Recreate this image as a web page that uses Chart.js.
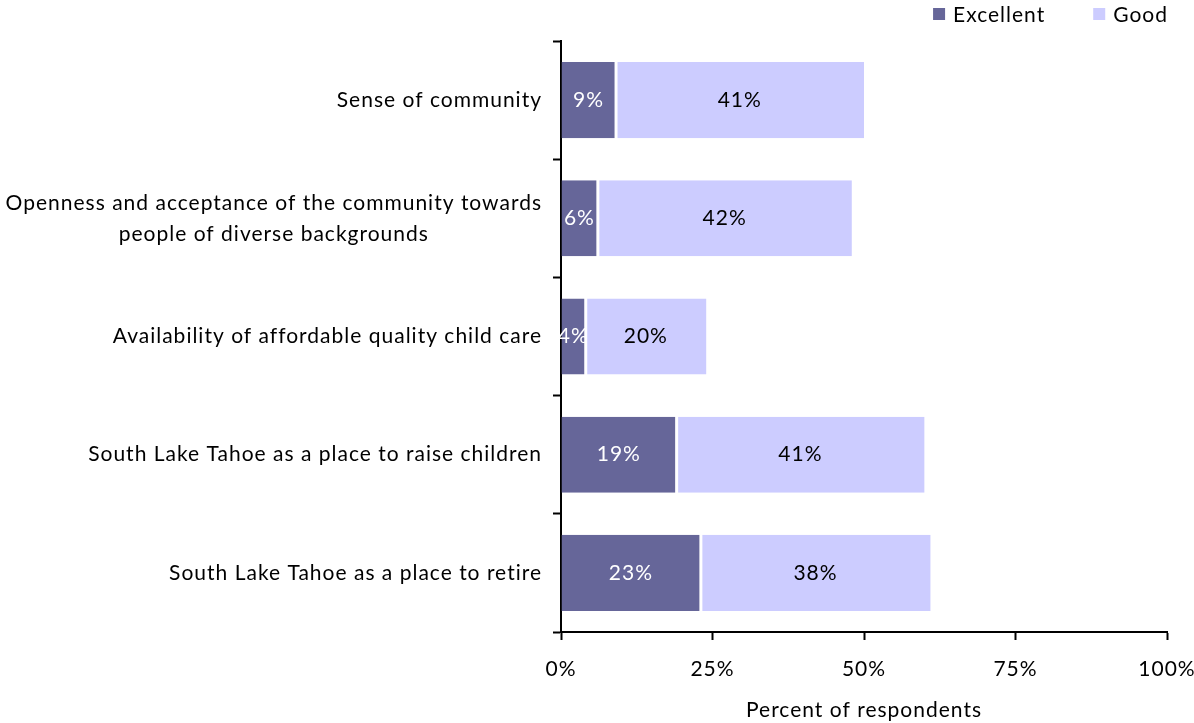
<!DOCTYPE html>
<html>
<head>
<meta charset="utf-8">
<script src="https://cdn.jsdelivr.net/npm/chart.js@4.4.1/dist/chart.umd.min.js"></script>
<style>
  html, body { margin: 0; padding: 0; background: #fff; }
  #wrap { width: 1194px; height: 723px; position: relative; }
</style>
</head>
<body>
<div id="wrap"><canvas id="c"></canvas></div>
<script>
// Community ratings, share of respondents (%)
const categories = [
  'Sense of community',
  ['Openness and acceptance of the community towards', 'people of diverse backgrounds'],
  'Availability of affordable quality child care',
  'South Lake Tahoe as a place to raise children',
  'South Lake Tahoe as a place to retire'
];
const excellentValues = [9, 6, 4, 19, 23];
const goodValues = [41, 42, 20, 41, 38];
const xTickValues = [0, 25, 50, 75, 100];

const FONT = 'Lato, "Open Sans", sans-serif';
const FONT_SIZE = 21;
const SPACING = '1px';

// Slightly tracked-out lettering for every text on the canvas
const tracking = {
  id: 'tracking',
  beforeInit(chart) { chart.ctx.letterSpacing = SPACING; },
  beforeUpdate(chart) { chart.ctx.letterSpacing = SPACING; },
  beforeLayout(chart) { chart.ctx.letterSpacing = SPACING; },
  beforeDraw(chart) { chart.ctx.letterSpacing = SPACING; }
};

// Percent labels drawn in the middle of each bar segment
const segmentLabels = {
  id: 'segmentLabels',
  afterDatasetsDraw(chart) {
    const ctx = chart.ctx;
    ctx.save();
    ctx.font = FONT_SIZE + 'px ' + FONT;
    ctx.textAlign = 'center';
    ctx.textBaseline = 'middle';
    chart.data.datasets.forEach((ds, di) => {
      const meta = chart.getDatasetMeta(di);
      meta.data.forEach((bar, i) => {
        const v = ds.data[i];
        const x = (bar.x + bar.base) / 2;
        ctx.fillStyle = ds.labelColor;
        ctx.fillText(v + '%', x, bar.y);
      });
    });
    ctx.restore();
  }
};

// Category names: right-aligned block, wrapped lines centred on each other
const categoryLabels = {
  id: 'categoryLabels',
  afterDraw(chart) {
    const ctx = chart.ctx;
    const y = chart.scales.y;
    const right = y.right - 19;
    const lineH = 31;
    ctx.save();
    ctx.font = FONT_SIZE + 'px ' + FONT;
    ctx.fillStyle = '#000';
    ctx.textBaseline = 'middle';
    ctx.textAlign = 'center';
    categories.forEach((lab, i) => {
      const lines = Array.isArray(lab) ? lab : [lab];
      const w = Math.max(...lines.map(l => ctx.measureText(l).width));
      const cx = right - w / 2;
      const cy = y.getPixelForTick(i);
      lines.forEach((l, k) => {
        ctx.fillText(l, cx, cy + (k - (lines.length - 1) / 2) * lineH);
      });
    });
    ctx.restore();
  }
};

// Series key in the top-right corner, built from the datasets
const seriesKey = {
  id: 'seriesKey',
  afterDraw(chart) {
    const ctx = chart.ctx;
    const right = chart.chartArea.right + 1;
    const cy = 14;
    const box = 12, gapText = 8, gapItem = 48;
    ctx.save();
    ctx.font = FONT_SIZE + 'px ' + FONT;
    ctx.textBaseline = 'middle';
    ctx.textAlign = 'left';
    const items = chart.data.datasets.map(ds => ({
      label: ds.label, color: ds.backgroundColor, w: ctx.measureText(ds.label).width
    }));
    let total = 0;
    items.forEach((it, i) => { total += box + gapText + it.w + (i ? gapItem : 0); });
    let x = right - total;
    items.forEach(it => {
      ctx.fillStyle = it.color;
      ctx.fillRect(x, cy - box / 2, box, box);
      ctx.fillStyle = '#000';
      ctx.fillText(it.label, x + box + gapText, cy + 1);
      x += box + gapText + it.w + gapItem;
    });
    ctx.restore();
  }
};

new Chart(document.getElementById('c'), {
  type: 'bar',
  data: {
    labels: categories,
    datasets: [
      {
        label: 'Excellent',
        data: excellentValues,
        backgroundColor: '#666699',
        borderColor: '#ffffff',
        borderWidth: { right: 1, left: 0, top: 0, bottom: 0 },
        borderSkipped: false,
        labelColor: '#ffffff',
        barPercentage: 0.644,
        categoryPercentage: 1
      },
      {
        label: 'Good',
        data: goodValues,
        backgroundColor: '#ccccff',
        borderColor: '#ffffff',
        borderWidth: { left: 2, right: 0, top: 0, bottom: 0 },
        borderSkipped: false,
        labelColor: '#000000',
        barPercentage: 0.644,
        categoryPercentage: 1
      }
    ]
  },
  options: {
    indexAxis: 'y',
    responsive: true,
    maintainAspectRatio: false,
    animation: false,
    layout: { padding: { left: 0, right: 27, top: 41, bottom: 0 } },
    plugins: {
      legend: { display: false },
      tooltip: { enabled: false }
    },
    scales: {
      x: {
        stacked: true,
        min: 0,
        max: 100,
        afterBuildTicks(scale) {
          scale.ticks = xTickValues.map(v => ({ value: v }));
        },
        afterFit(scale) {
          scale.height = 91;
          scale.paddingLeft = 0;
          scale.paddingRight = 0;
        },
        border: { display: true, color: '#000', width: 2 },
        grid: {
          drawOnChartArea: false,
          drawTicks: true,
          tickLength: 8,
          tickColor: '#000',
          tickWidth: 2
        },
        ticks: {
          color: '#000',
          padding: 17,
          maxRotation: 0,
          font: { family: FONT, size: FONT_SIZE },
          callback: v => v + '%'
        },
        title: {
          display: true,
          text: 'Percent of respondents',
          color: '#000',
          padding: { top: 4, bottom: 0 },
          font: { family: FONT, size: FONT_SIZE }
        }
      },
      y: {
        stacked: true,
        afterFit(scale) {
          scale.width = 561;
          scale.paddingTop = 0;
          scale.paddingBottom = 0;
        },
        border: { display: true, color: '#000', width: 2 },
        grid: {
          offset: true,
          drawOnChartArea: false,
          drawTicks: true,
          tickLength: 8,
          tickColor: '#000',
          tickWidth: 2
        },
        ticks: { display: true, color: 'rgba(0,0,0,0)', font: { family: FONT, size: FONT_SIZE } }
      }
    }
  },
  plugins: [tracking, segmentLabels, categoryLabels, seriesKey]
});
</script>
</body>
</html>
